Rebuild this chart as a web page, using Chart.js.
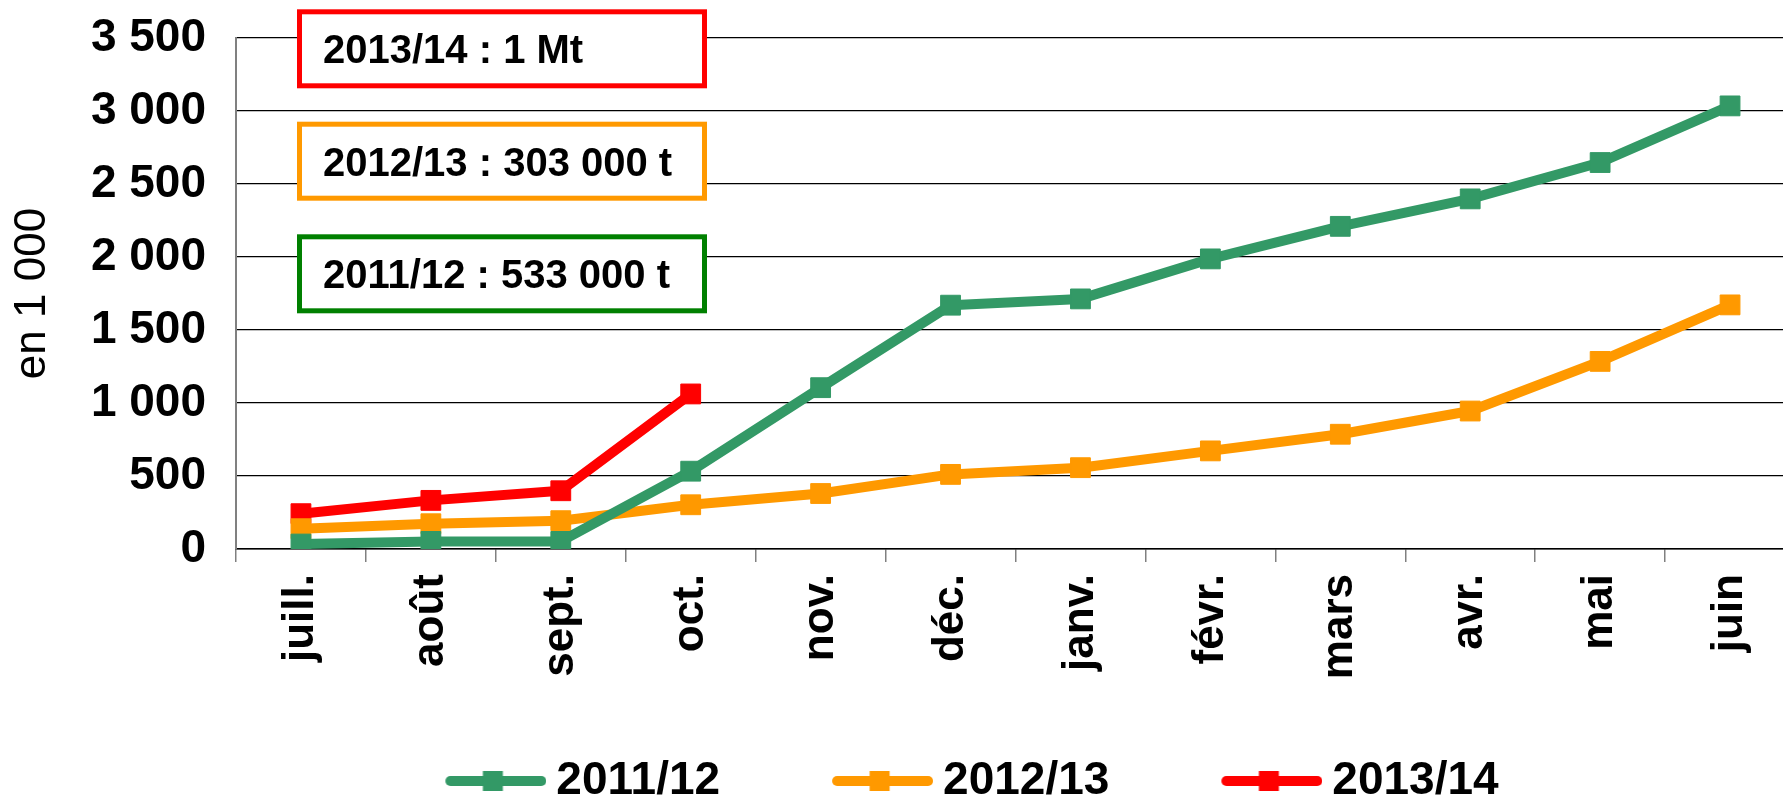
<!DOCTYPE html>
<html>
<head>
    <meta charset="utf-8">
    <title>Cumul mensuel</title>
    <script src="https://cdn.jsdelivr.net/npm/chart.js"></script>
    <style>
        html, body {
            margin: 0;
            padding: 0;
            overflow: hidden;
            background: #fff;
        }
        #wrap {
            width: 1810px;
            height: 814px;
        }
    </style>
</head>
<body>
    <div id="wrap">
        <canvas id="figure" width="1810" height="814"></canvas>
    </div>

    <script>
        // categories and series (in 1 000 t)
        var months = ['juill.', 'août', 'sept.', 'oct.', 'nov.', 'déc.', 'janv.', 'févr.', 'mars', 'avr.', 'mai', 'juin'];
        var seriesNames = ['2011/12', '2012/13', '2013/14'];
        var values2011 = [34, 52, 52, 533, 1105, 1670, 1713, 1987, 2210, 2398, 2647, 3035];
        var values2012 = [139, 173, 194, 303, 380, 511, 557, 672, 786, 945, 1285, 1672];
        var values2013 = [242, 333, 399, 1062];
        var yMin = 0, yMax = 3500, yStep = 500;
        var notes = ['2013/14 : 1 Mt', '2012/13 : 303 000 t', '2011/12 : 533 000 t'];

        var FONT = '"Liberation Sans", Arial, sans-serif';
        var colors = ['#339966', '#FF9900', '#FF0000'];
        var noteColors = ['#FF0000', '#FF9900', '#008000'];

        function fmt(v) {
            if (v >= 1000) {
                var r = String(v % 1000);
                while (r.length < 3) r = '0' + r;
                return Math.floor(v / 1000) + ' ' + r;
            }
            return String(v);
        }

        // legend symbol: line with square marker
        var LEG_W = 190;
        function legendImage(color) {
            var c = document.createElement('canvas');
            c.width = LEG_W + 26;
            c.height = 24;
            var g = c.getContext('2d');
            var x1 = c.width - 101 + 5, x2 = c.width - 5;
            g.strokeStyle = color;
            g.lineWidth = 10;
            g.lineCap = 'round';
            g.beginPath();
            g.moveTo(x1, 12);
            g.lineTo(x2, 12);
            g.stroke();
            g.fillStyle = color;
            var cx = (x1 + x2) / 2 - 3;
            g.fillRect(cx - 10, 2, 20, 20);
            return c;
        }

        // the legend sits a little right of centre in the original
        var legendShift = {
            id: 'legendShift',
            afterLayout: function (chart) {
                if (chart.legend) {
                    chart.legend.left += 16;
                    chart.legend.right += 16;
                }
            }
        };

        var notesPlugin = {
            id: 'notes',
            afterDraw: function (chart) {
                var ctx = chart.ctx;
                var tops = [11.8, 124.2, 236.8];
                ctx.save();
                for (var i = 0; i < notes.length; i++) {
                    ctx.fillStyle = '#fff';
                    ctx.fillRect(299.5, tops[i], 405, 74);
                    ctx.strokeStyle = noteColors[i];
                    ctx.lineWidth = 5;
                    ctx.strokeRect(299.5, tops[i], 405, 74);
                    ctx.fillStyle = '#000';
                    ctx.font = 'bold 40px ' + FONT;
                    ctx.textBaseline = 'alphabetic';
                    ctx.fillText(notes[i], 323, tops[i] + 51.5);
                }
                ctx.restore();
            }
        };

        function lineSet(label, data, color) {
            return {
                label: label,
                data: data,
                borderColor: color,
                backgroundColor: color,
                borderWidth: 10,
                borderJoinStyle: 'round',
                pointStyle: 'rect',
                pointRadius: 14,
                pointHoverRadius: 14,
                pointBorderWidth: 1,
                pointBackgroundColor: color,
                pointBorderColor: color,
                fill: false,
                tension: 0
            };
        }

        var ctx = document.getElementById('figure').getContext('2d');
        new Chart(ctx, {
            type: 'line',
            data: {
                labels: months,
                datasets: [
                    lineSet(seriesNames[0], values2011, colors[0]),
                    lineSet(seriesNames[1], values2012, colors[1]),
                    lineSet(seriesNames[2], values2013, colors[2])
                ]
            },
            options: {
                responsive: false,
                animation: false,
                devicePixelRatio: 1,
                layout: { padding: { top: 38, right: 0, left: 0, bottom: 0 } },
                plugins: {
                    tooltip: { enabled: false },
                    legend: {
                        position: 'bottom',
                        labels: {
                            usePointStyle: true,
                            pointStyleWidth: LEG_W,
                            padding: 10,
                            color: '#000',
                            font: { family: FONT, size: 46, weight: 'bold' },
                            generateLabels: function (chart) {
                                var items = Chart.defaults.plugins.legend.labels.generateLabels(chart);
                                items.forEach(function (it, i) {
                                    it.pointStyle = legendImage(colors[i]);
                                });
                                return items;
                            }
                        }
                    }
                },
                scales: {
                    x: {
                        type: 'category',
                        offset: true,
                        afterFit: function (scale) { scale.height = 199; },
                        grid: {
                            offset: true,
                            drawOnChartArea: false,
                            drawTicks: true,
                            tickLength: 13,
                            color: '#808080',
                            lineWidth: 1.5
                        },
                        border: { color: '#000', width: 1.5 },
                        ticks: {
                            autoSkip: false,
                            minRotation: 90,
                            maxRotation: 90,
                            padding: 12,
                            color: '#000',
                            font: { family: FONT, size: 44, weight: 'bold' }
                        }
                    },
                    y: {
                        min: yMin,
                        max: yMax,
                        afterFit: function (scale) {
                            scale.width = 236;
                            scale.paddingTop = 0;
                            scale.paddingBottom = 0;
                        },
                        grid: {
                            color: '#000',
                            lineWidth: 1.3,
                            drawTicks: false
                        },
                        border: { color: '#808080', width: 2 },
                        ticks: {
                            stepSize: yStep,
                            padding: 30,
                            color: '#000',
                            font: { family: FONT, size: 46, weight: 'bold' },
                            callback: function (v) { return fmt(v); }
                        },
                        title: {
                            display: true,
                            text: 'en 1 000',
                            color: '#000',
                            padding: { top: 6, bottom: 0 },
                            font: { family: FONT, size: 44, weight: 'normal' }
                        }
                    }
                }
            },
            plugins: [notesPlugin, legendShift]
        });
    </script>
</body>
</html>
